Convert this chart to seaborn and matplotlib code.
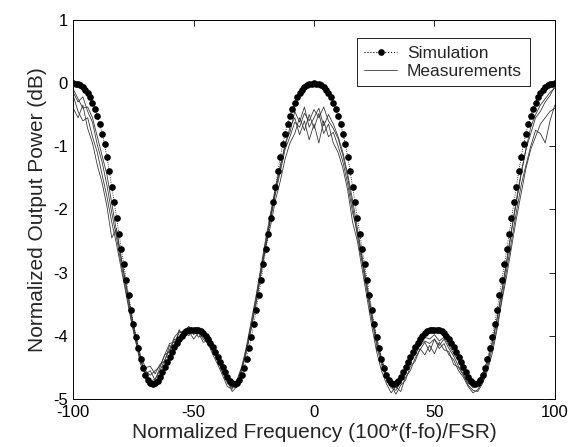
import numpy as np
import pandas as pd
import matplotlib
matplotlib.use("Agg")
import matplotlib.pyplot as plt
import seaborn as sns
from matplotlib.lines import Line2D

# ── Data ──────────────────────────────────────────────────────────────────────
# simulation: one point per unit of normalized frequency, -100 … 100
sim_freq = list(range(-100, 101, 1))
sim_db = [
    # -100 … -50
    0.00, -0.01, -0.02, -0.04, -0.07, -0.11, -0.16, -0.23, -0.31, -0.41,
    -0.52, -0.65, -0.80, -0.97, -1.17, -1.40, -1.64, -1.89, -2.14, -2.39,
    -2.63, -2.87, -3.12, -3.36, -3.59, -3.81, -4.01, -4.19, -4.36, -4.50,
    -4.61, -4.69, -4.74, -4.76, -4.75, -4.71, -4.65, -4.57, -4.49, -4.41,
    -4.33, -4.25, -4.18, -4.11, -4.05, -4.00, -3.96, -3.93, -3.91, -3.90,
    -3.90,
    # -49 … 0
    -3.90, -3.91, -3.93, -3.96, -4.00, -4.05, -4.11, -4.18, -4.25, -4.33,
    -4.41, -4.49, -4.57, -4.65, -4.71, -4.75, -4.76, -4.74, -4.69, -4.61,
    -4.50, -4.36, -4.19, -4.01, -3.81, -3.59, -3.36, -3.12, -2.87, -2.63,
    -2.39, -2.14, -1.89, -1.64, -1.40, -1.17, -0.97, -0.80, -0.65, -0.52,
    -0.41, -0.31, -0.23, -0.16, -0.11, -0.07, -0.04, -0.02, -0.01, 0.00,
    # 1 … 50
    -0.01, -0.02, -0.04, -0.07, -0.11, -0.16, -0.23, -0.31, -0.41, -0.52,
    -0.65, -0.80, -0.97, -1.17, -1.40, -1.64, -1.89, -2.14, -2.39, -2.63,
    -2.87, -3.12, -3.36, -3.59, -3.81, -4.01, -4.19, -4.36, -4.50, -4.61,
    -4.69, -4.74, -4.76, -4.75, -4.71, -4.65, -4.57, -4.49, -4.41, -4.33,
    -4.25, -4.18, -4.11, -4.05, -4.00, -3.96, -3.93, -3.91, -3.90, -3.90,
    # 51 … 100
    -3.90, -3.91, -3.93, -3.96, -4.00, -4.05, -4.11, -4.18, -4.25, -4.33,
    -4.41, -4.49, -4.57, -4.65, -4.71, -4.75, -4.76, -4.74, -4.69, -4.61,
    -4.50, -4.36, -4.19, -4.01, -3.81, -3.59, -3.36, -3.12, -2.87, -2.63,
    -2.39, -2.14, -1.89, -1.64, -1.40, -1.17, -0.97, -0.80, -0.65, -0.52,
    -0.41, -0.31, -0.23, -0.16, -0.11, -0.07, -0.04, -0.02, -0.01, 0.00,
]

# measurements: four sweeps, every 2 units, -100 … 100
meas_freq = list(range(-100, 101, 2))
meas_a = [
    -0.15, -0.30, -0.22, -0.45, -0.62, -0.98, -1.25, -1.62, -2.05, -2.45,
    -2.88, -3.30, -3.72, -4.08, -4.40, -4.58, -4.72, -4.68, -4.55, -4.38,
    -4.22, -4.02, -3.93, -3.98, -3.88, -3.95, -3.92, -4.05, -4.12, -4.30,
    -4.45, -4.62, -4.80, -4.84, -4.70, -4.48, -4.20, -3.80, -3.40, -2.95,
    -2.50, -2.15, -1.75, -1.40, -1.05, -0.85, -0.62, -0.70, -0.48, -0.60,
    -0.42,
    -0.55, -0.38, -0.60, -0.72, -0.88, -1.15, -1.50, -1.95, -2.42, -2.85,
    -3.30, -3.75, -4.15, -4.45, -4.68, -4.82, -4.86, -4.72, -4.60, -4.42,
    -4.25, -4.12, -4.02, -4.05, -3.98, -4.08, -4.02, -4.15, -4.28, -4.40,
    -4.55, -4.72, -4.82, -4.78, -4.65, -4.45, -4.12, -3.75, -3.30, -2.85,
    -2.35, -1.90, -1.45, -1.05, -0.80, -0.55, -0.45, -0.30, -0.20, -0.05,
]
meas_b = [
    -0.40, -0.55, -0.35, -0.72, -0.95, -1.30, -1.58, -1.95, -2.45, -2.30,
    -2.78, -3.20, -3.62, -4.00, -4.32, -4.50, -4.48, -4.60, -4.45, -4.40,
    -4.15, -4.20, -3.90, -4.02, -3.92, -4.05, -3.95, -4.10, -4.08, -4.25,
    -4.38, -4.58, -4.70, -4.88, -4.80, -4.55, -4.25, -3.85, -3.48, -3.00,
    -2.58, -2.25, -1.85, -1.55, -1.20, -0.95, -0.80, -0.55, -0.75, -0.50,
    -0.72,
    -0.48, -0.80, -0.65, -0.95, -1.10, -1.35, -1.70, -2.20, -2.50, -2.95,
    -3.40, -3.85, -4.25, -4.55, -4.75, -4.90, -4.80, -4.88, -4.65, -4.55,
    -4.35, -4.22, -4.10, -4.25, -4.05, -4.20, -4.12, -4.30, -4.38, -4.55,
    -4.65, -4.80, -4.90, -4.85, -4.70, -4.50, -4.20, -3.85, -3.40, -2.95,
    -2.50, -2.05, -1.62, -1.30, -1.00, -0.75, -0.80, -0.95, -0.60, -0.35,
]
meas_c = [
    -0.20, -0.45, -0.60, -0.55, -0.85, -1.10, -1.45, -1.80, -2.20, -2.55,
    -2.95, -3.35, -3.75, -4.10, -4.45, -4.60, -4.55, -4.70, -4.50, -4.30,
    -4.25, -4.05, -4.10, -3.90, -4.00, -3.88, -4.02, -3.98, -4.15, -4.22,
    -4.40, -4.55, -4.75, -4.82, -4.75, -4.50, -4.15, -3.75, -3.35, -2.90,
    -2.45, -2.05, -1.65, -1.30, -1.00, -0.70, -0.55, -0.82, -0.60, -0.90,
    -0.65,
    -0.95, -0.60, -0.85, -0.78, -1.00, -1.25, -1.60, -2.05, -2.35, -2.80,
    -3.25, -3.70, -4.10, -4.40, -4.65, -4.78, -4.92, -4.78, -4.70, -4.48,
    -4.40, -4.20, -4.30, -4.15, -4.28, -4.10, -4.22, -4.25, -4.45, -4.50,
    -4.62, -4.78, -4.86, -4.88, -4.75, -4.55, -4.28, -3.90, -3.45, -3.05,
    -2.60, -2.15, -1.75, -1.35, -1.05, -0.85, -0.65, -0.55, -0.45, -0.40,
]
meas_d = [
    -0.10, -0.25, -0.40, -0.38, -0.55, -0.85, -1.15, -1.45, -1.90, -2.35,
    -2.80, -3.22, -3.65, -4.05, -4.38, -4.55, -4.62, -4.55, -4.48, -4.30,
    -4.12, -4.10, -3.95, -3.92, -3.85, -3.98, -3.90, -4.00, -4.10, -4.20,
    -4.35, -4.52, -4.68, -4.78, -4.72, -4.52, -4.22, -3.88, -3.45, -3.00,
    -2.55, -2.10, -1.70, -1.35, -0.95, -0.78, -0.45, -0.62, -0.38, -0.70,
    -0.55,
    -0.40, -0.68, -0.50, -0.65, -0.85, -1.10, -1.45, -1.85, -2.30, -2.75,
    -3.20, -3.65, -4.05, -4.35, -4.60, -4.78, -4.82, -4.75, -4.55, -4.38,
    -4.30, -4.15, -4.08, -4.12, -4.05, -4.15, -4.05, -4.20, -4.32, -4.48,
    -4.60, -4.75, -4.80, -4.72, -4.60, -4.40, -4.10, -3.72, -3.28, -2.80,
    -2.32, -1.85, -1.42, -1.05, -0.70, -0.50, -0.35, -0.25, -0.15, -0.08,
]

x_ticks = [-100, -50, 0, 50, 100]
y_ticks = [-5, -4, -3, -2, -1, 0, 1]

# ── Figure ────────────────────────────────────────────────────────────────────
sns.set_style("white")
plt.rcParams["font.family"] = ["Liberation Sans", "DejaVu Sans"]
plt.rcParams["axes.unicode_minus"] = False   # plain hyphen like the original

sim_df = pd.DataFrame({"freq": sim_freq, "power": sim_db})
meas_df = pd.concat([
    pd.DataFrame({"freq": meas_freq, "power": vals, "sweep": name})
    for name, vals in [("a", meas_a), ("b", meas_b), ("c", meas_c), ("d", meas_d)]
])

fig = plt.figure(figsize=(5.72, 4.47), dpi=100)
ax = fig.add_axes([0.128, 0.107, 0.842, 0.849])

sns.lineplot(data=meas_df, x="freq", y="power", units="sweep", estimator=None,
             color="#3a3a3a", linewidth=0.6, ax=ax, legend=False)
sns.lineplot(data=sim_df, x="freq", y="power", color="black", linewidth=0.6,
             linestyle=":", marker="o", markersize=4.8, markeredgewidth=0,
             ax=ax, legend=False)

ax.set_xlim(-100, 100)
ax.set_ylim(-5, 1)
ax.set_xticks(x_ticks)
ax.set_yticks(y_ticks)
ax.tick_params(direction="in", length=4, width=0.6, top=True, right=True,
               labelsize=12, pad=4, colors="black")
for s in ax.spines.values():
    s.set_linewidth(0.7)
    s.set_color("black")

ax.set_xlabel("Normalized Frequency (100*(f-fo)/FSR)", fontsize=15, labelpad=2)
ax.set_ylabel("Normalized Output Power (dB)", fontsize=15, labelpad=4)

handles = [
    Line2D([], [], color="black", linestyle=":", linewidth=0.8, marker="o",
           markersize=4.8, markeredgewidth=0),
    Line2D([], [], color="#3a3a3a", linewidth=0.6),
]
leg = ax.legend(handles, ["Simulation", "Measurements"], loc="upper right",
                bbox_to_anchor=(0.948, 0.952), borderaxespad=0, fontsize=12.5,
                fancybox=False, framealpha=1, edgecolor="black",
                handlelength=1.85, handletextpad=0.6, borderpad=0.45,
                labelspacing=0.15)
leg.get_frame().set_linewidth(0.6)

fig.savefig("out.png", dpi=100)
